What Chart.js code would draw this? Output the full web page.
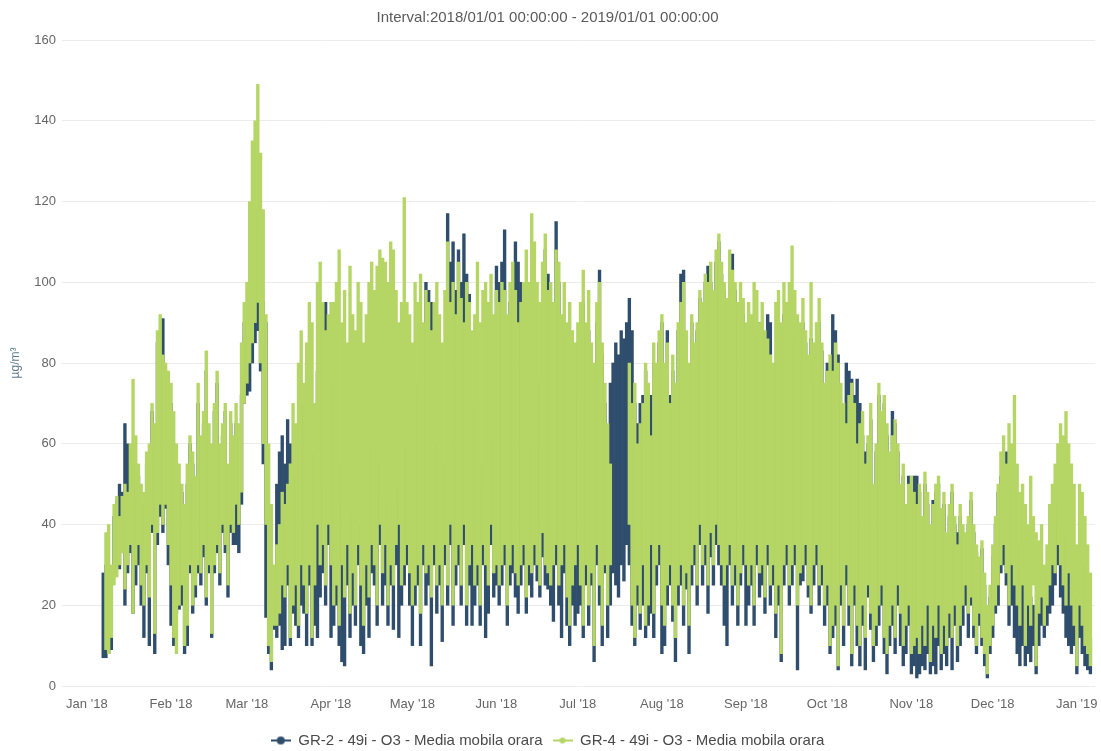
<!DOCTYPE html>
<html>
<head>
<meta charset="utf-8">
<script src="https://cdn.jsdelivr.net/npm/chart.js@4.4.1/dist/chart.umd.min.js"></script>
<style>
  html, body { margin: 0; padding: 0; background: #fff; }
  #wrap { width: 1101px; height: 751px; }
</style>
</head>
<body>
<div id="wrap"><canvas id="o3Chart" width="1101" height="751"></canvas></div>
<script>
// x axis: day of year, 0 = 1 Jan 2018
const monthStarts = [0, 31, 59, 90, 120, 151, 181, 212, 243, 273, 304, 334, 365];
const monthLabels = ["Jan '18", "Feb '18", "Mar '18", "Apr '18", "May '18", "Jun '18",
  "Jul '18", "Aug '18", "Sep '18", "Oct '18", "Nov '18", "Dec '18", "Jan '19"];
const yTicks = [0, 20, 40, 60, 80, 100, 120, 140, 160];

// daily min / max of the hourly moving average, one value per day
const gr4Min = [
  null,9,8,12,25,27,30,33,24,30,35,18,30,35,25,20,30,22,40,13,38,45,40,45,35,25,
  12,8,20,25,10,15,30,20,25,30,28,35,22,30,13,30,35,28,40,35,25,40,38,45,40,48,70,75,
  80,85,90,95,80,60,40,10,6,15,15,18,25,22,30,12,20,25,15,30,25,18,30,12,25,40,30,35,25,40,30,
  20,25,15,30,22,35,18,28,20,35,25,15,30,22,35,30,20,40,28,35,20,30,25,35,40,25,30,35,28,20,
  25,30,18,35,28,30,22,35,25,30,20,35,25,40,20,30,35,25,40,20,30,35,25,30,20,35,30,25,40,28,30,
  25,30,35,20,30,35,28,25,30,35,22,30,28,35,30,25,38,30,28,25,30,35,25,30,35,22,15,25,30,35,
  25,15,30,20,28,10,35,25,15,30,20,30,null,null,null,null,null,null,40,20,12,25,18,30,15,20,35,18,30,35,20,
  15,25,30,20,12,25,30,20,28,15,30,35,25,40,30,35,25,38,30,40,35,30,25,30,35,25,30,20,28,35,30,
  25,30,20,35,28,30,22,35,25,30,18,25,8,30,35,25,30,35,20,28,30,35,25,20,30,35,25,30,20,25,
  10,15,20,5,25,15,30,20,8,25,15,10,20,12,25,18,10,15,20,25,12,8,15,20,12,25,18,10,15,20,8,
  10,12,8,15,10,20,6,15,12,20,8,15,10,18,12,20,10,15,20,25,18,22,15,10,18,12,8,3,10,15,
  20,25,30,35,28,20,30,25,20,15,25,10,20,15,25,5,18,22,15,20,25,30,28,35,30,25,20,28,20,15,5,
  20,15,10,8,5
];
const gr4Max = [
  null,38,40,30,45,47,42,47,50,48,60,76,62,55,50,48,58,60,70,65,88,92,82,80,78,75,
  68,60,55,50,45,55,62,58,52,75,62,68,83,65,60,70,78,60,65,70,55,68,62,70,65,85,95,100,
  120,135,140,149,132,118,92,60,45,30,35,40,48,45,50,55,70,65,80,88,75,85,95,90,70,100,105,95,88,92,95,
  95,100,108,90,98,85,104,92,88,100,95,85,92,100,105,98,104,108,106,105,100,110,108,98,90,95,121,95,92,85,
  100,95,102,90,98,95,88,95,100,92,85,98,110,95,100,92,105,96,90,100,95,88,92,105,90,98,100,95,102,92,98,
  95,100,98,92,100,105,98,90,95,100,108,100,117,110,100,95,105,112,98,100,95,108,105,92,100,90,95,88,85,90,
  95,103,90,98,85,80,95,100,85,75,65,55,null,null,null,null,null,null,80,70,75,60,65,70,80,75,62,85,80,88,92,
  80,85,70,82,75,90,95,100,88,80,92,85,90,98,95,102,100,105,98,108,112,105,100,96,108,103,100,95,100,96,90,
  95,92,100,98,90,95,88,86,82,80,95,98,90,100,95,100,109,98,92,90,96,88,82,100,85,90,96,85,75,78,
  82,78,85,80,75,70,65,72,75,70,60,65,68,55,62,70,50,60,75,68,72,65,58,62,66,60,50,55,45,50,52,
  48,45,50,42,53,48,40,45,50,52,44,48,38,45,50,42,35,45,40,38,42,48,40,35,32,36,28,20,25,35,
  42,50,58,62,55,65,60,72,55,48,50,45,40,52,42,38,36,40,30,35,45,50,55,60,65,62,68,60,55,50,35,
  50,48,42,35,28
];
const gr2Min = [
  7,7,8,9,28,30,29,33,20,28,33,18,25,30,20,12,28,10,38,8,35,42,38,44,30,15,
  10,18,19,20,8,10,28,18,22,28,25,32,20,28,12,28,33,25,38,33,22,38,35,35,33,45,70,72,
  73,80,85,88,78,55,17,8,4,14,12,15,9,10,25,10,18,15,12,20,18,10,25,10,15,12,22,28,20,35,12,
  15,20,10,6,5,25,12,20,15,30,10,8,20,12,28,25,15,35,20,25,15,25,14,30,12,20,25,30,20,10,
  20,25,10,30,20,25,5,30,18,25,11,30,20,35,15,25,30,20,35,15,25,15,20,25,15,30,12,18,35,22,25,
  20,25,30,15,25,28,22,18,25,30,18,25,22,30,26,22,32,25,24,20,16,30,20,12,28,15,10,20,15,18,
  20,12,25,15,25,6,30,20,10,28,12,20,28,25,22,30,26,35,30,15,10,20,14,20,12,15,18,12,25,30,8,
  10,20,25,16,6,20,25,15,24,8,25,30,20,35,25,30,18,32,25,35,30,25,15,10,30,20,25,15,25,30,15,
  20,25,15,30,22,25,18,30,20,25,12,20,6,25,30,20,25,30,4,25,26,30,22,18,25,30,20,25,15,20,
  8,12,15,4,20,10,25,15,5,20,10,5,15,4,22,14,6,10,15,20,8,3,10,15,8,20,10,5,8,15,3,
  5,2,3,5,4,8,3,5,3,10,4,8,5,12,4,15,6,10,15,20,12,20,12,8,15,10,5,2,8,12,
  18,20,28,30,25,15,20,12,8,5,10,5,8,6,10,3,10,15,12,15,18,20,25,30,22,18,12,10,8,10,3,
  12,8,5,4,3
];
const gr2Max = [
  28,30,25,28,42,46,50,48,65,60,58,45,55,52,45,45,55,55,68,62,85,80,91,78,75,70,
  60,55,50,48,40,50,60,55,50,70,60,65,78,60,58,68,75,58,62,68,52,65,60,65,60,72,90,87,
  100,110,118,112,100,95,90,38,40,28,50,58,62,55,66,60,48,52,60,70,58,80,60,40,58,78,50,92,95,90,65,
  75,60,55,45,38,55,48,42,35,40,38,30,55,45,60,67,48,55,40,45,30,40,38,50,45,38,60,55,50,40,
  75,70,60,88,100,98,95,60,40,45,40,55,117,105,110,98,108,100,112,102,97,70,65,60,55,50,45,40,50,60,104,
  100,105,113,90,95,100,110,105,100,78,70,55,60,70,75,60,95,108,102,75,90,115,100,70,88,80,70,80,72,85,
  88,95,85,88,80,75,90,103,82,70,60,75,80,85,82,88,86,90,96,88,70,65,70,72,78,70,72,80,78,85,90,
  75,88,72,78,70,88,102,103,85,78,90,82,88,96,93,100,104,100,96,105,110,102,98,94,106,107,98,92,94,92,88,
  92,90,88,85,90,88,84,92,90,78,80,82,85,92,90,95,85,86,88,86,90,85,80,86,75,85,90,83,60,80,
  80,92,88,82,70,68,80,78,76,72,76,70,62,58,60,66,48,58,72,66,70,62,55,68,65,58,48,52,42,52,50,
  52,52,48,40,50,45,38,46,48,50,40,45,36,42,48,40,38,42,36,35,40,46,38,33,30,34,25,18,22,32,
  40,48,52,56,58,50,45,40,35,30,28,25,30,22,20,15,18,22,25,28,30,32,40,45,50,38,35,42,30,22,13,
  35,30,20,15,12
];

const blue = '#2f4d6c';
const green = '#b5d665';
const font = "'Liberation Sans', Arial, sans-serif";

function toBars(lo, hi) {
  const out = [];
  for (let i = 0; i < lo.length; i++) {
    if (lo[i] == null || hi[i] == null) continue;
    out.push({ x: i + 0.5, y: [lo[i], hi[i]] });
  }
  return out;
}

// legend symbol: short line with a dot on it
function legendMarker(color, r) {
  const c = document.createElement('canvas');
  c.width = 20;
  c.height = 10;
  const g = c.getContext('2d');
  g.strokeStyle = color;
  g.lineWidth = 2;
  g.beginPath();
  g.moveTo(0, 5);
  g.lineTo(20, 5);
  g.stroke();
  g.fillStyle = color;
  g.beginPath();
  g.arc(10, 5, r, 0, Math.PI * 2);
  g.fill();
  return c;
}
const markers = [legendMarker(blue, 4), legendMarker(green, 3)];

const ctx = document.getElementById('o3Chart').getContext('2d');

new Chart(ctx, {
  type: 'bar',
  data: {
    datasets: [
      {
        label: 'GR-2 - 49i - O3 - Media mobila orara',
        data: toBars(gr2Min, gr2Max),
        backgroundColor: blue,
        borderWidth: 0,
        grouped: false,
        barPercentage: 1,
        categoryPercentage: 1,
        order: 1
      },
      {
        label: 'GR-4 - 49i - O3 - Media mobila orara',
        data: toBars(gr4Min, gr4Max),
        backgroundColor: green,
        borderWidth: 0,
        grouped: false,
        barPercentage: 1,
        categoryPercentage: 1,
        order: 0
      }
    ]
  },
  options: {
    responsive: false,
    animation: false,
    layout: { padding: { left: 0, right: 6, top: 0, bottom: -7 } },
    plugins: {
      title: {
        display: true,
        text: 'Interval:2018/01/01 00:00:00 - 2019/01/01 00:00:00',
        color: '#5a5a5a',
        font: { family: font, size: 15, weight: 'normal' },
        padding: { top: 9, bottom: 13 }
      },
      legend: {
        position: 'bottom',
        labels: {
          usePointStyle: true,
          pointStyleWidth: 20,
          padding: 10,
          color: '#4a4a4a',
          font: { family: font, size: 15 },
          generateLabels(chart) {
            const items = Chart.defaults.plugins.legend.labels.generateLabels(chart);
            items.forEach(it => { it.pointStyle = markers[it.datasetIndex]; });
            return items.sort((a, b) => a.datasetIndex - b.datasetIndex);
          }
        }
      },
      tooltip: { enabled: false }
    },
    scales: {
      x: {
        type: 'linear',
        min: -14.7,
        max: 366.2,
        offset: false,
        grid: { display: false, drawTicks: false },
        border: { display: false },
        afterBuildTicks(scale) {
          scale.ticks = monthStarts.map(v => ({ value: v }));
        },
        afterFit(scale) {
          scale.height = 37;
          scale.paddingLeft = 0;
          scale.paddingRight = 0;
        },
        ticks: {
          autoSkip: false,
          maxRotation: 0,
          padding: 11,
          labelOffset: -15,
          color: '#666',
          font: { family: font, size: 13 },
          callback: v => monthLabels[monthStarts.indexOf(v)]
        }
      },
      y: {
        min: 0,
        max: 160,
        grid: { color: '#ececec', drawTicks: false },
        border: { display: false },
        afterBuildTicks(scale) {
          scale.ticks = yTicks.map(v => ({ value: v }));
        },
        afterFit(scale) {
          scale.width = 62;
          scale.paddingTop = 0;
          scale.paddingBottom = 0;
        },
        title: {
          display: true,
          text: 'µg/m³',
          color: '#5f7d8c',
          font: { family: font, size: 12 },
          padding: { top: 8, bottom: 0 }
        },
        ticks: {
          padding: 6,
          color: '#666',
          font: { family: font, size: 13 }
        }
      }
    }
  }
});
</script>
</body>
</html>
